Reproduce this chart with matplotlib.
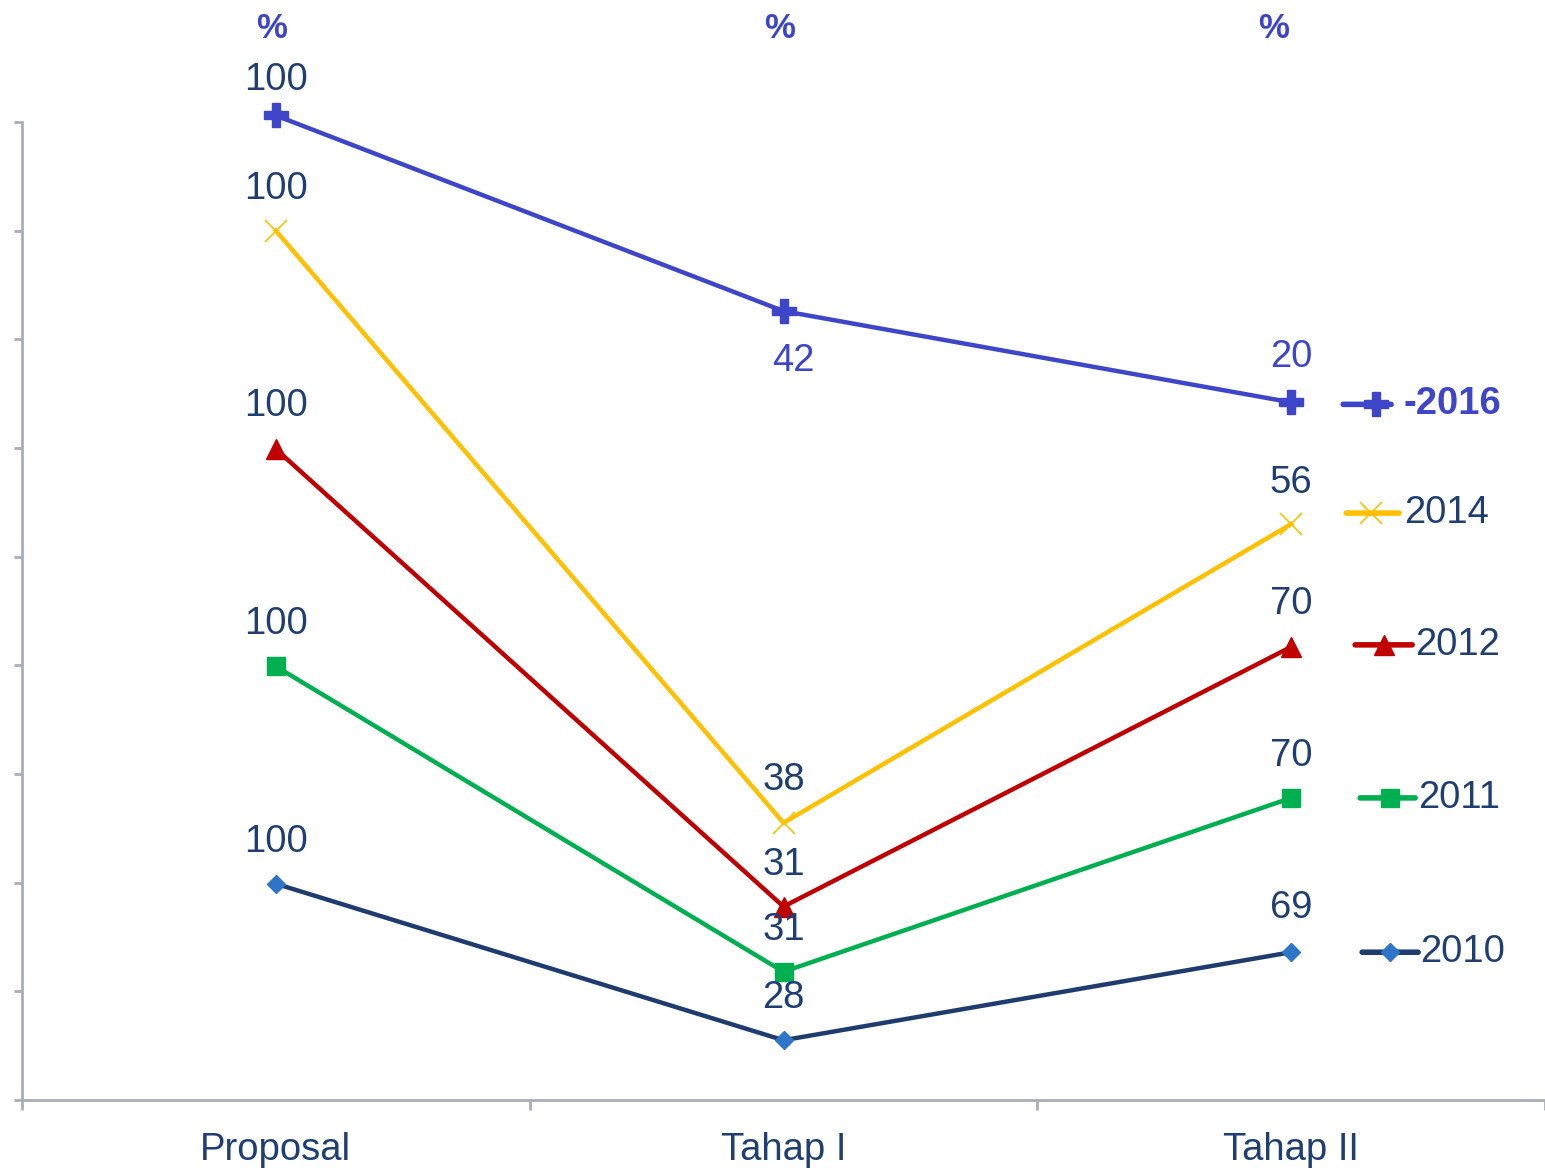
import matplotlib.pyplot as plt
import matplotlib.transforms as mtransforms

plt.rcParams['font.family'] = ['Liberation Sans', 'DejaVu Sans']

categories = ['Proposal', 'Tahap I', 'Tahap II']
years = ['2016', '2014', '2012', '2011', '2010']

# plotted height of each point (the chart stacks series, axis has no labels)
pos_2016 = [90.6, 72.6, 64.2]
pos_2014 = [80.0, 25.5, 53.0]
pos_2012 = [59.9, 17.8, 41.7]
pos_2011 = [39.9, 11.8, 27.8]
pos_2010 = [19.9, 5.5, 13.6]

# percentages shown as data labels
pct_2016 = [100, 42, 20]
pct_2014 = [100, 38, 56]
pct_2012 = [100, 31, 70]
pct_2011 = [100, 31, 70]
pct_2010 = [100, 28, 69]

positions = [pos_2016, pos_2014, pos_2012, pos_2011, pos_2010]
percents = [pct_2016, pct_2014, pct_2012, pct_2011, pct_2010]

text_col = '#1F3F73'
blue = '#3D46C9'
styles = {
    '2016': dict(color=blue, marker='P', ms=17, mfc=blue, mec=blue, mew=1),
    '2014': dict(color='#FFC000', marker='x', ms=16, mfc='#FFC000', mec='#FFC000', mew=1.2),
    '2012': dict(color='#C00000', marker='^', ms=15, mfc='#C00000', mec='#C00000', mew=1),
    '2011': dict(color='#00B050', marker='s', ms=13, mfc='#00B050', mec='#00B050', mew=1),
    '2010': dict(color='#1F3C6E', marker='D', ms=9, mfc='#2E75C8', mec='#2E75C8', mew=1),
}

# label offsets in pixels (dy per category); 2016 Tahap I sits below the point
label_dy = {
    '2016': [35, -50, 45],
    '2014': [42, 43, 41],
    '2012': [43, 42, 43],
    '2011': [42, 42, 42],
    '2010': [42, 42, 44],
}
# series-name key offsets from last point in pixels: (key start, key end, marker, text, dy)
key_off = {
    '2016': (52, 100, 85, 112, -2),
    '2014': (55, 108, 80, 113, 11),
    '2012': (64, 121, 93, 124, 2),
    '2011': (69, 124, 99, 127, 0),
    '2010': (71, 127, 99, 129, 0),
}
PT = 1.389  # pixels per point at 100 dpi

fig = plt.figure(figsize=(15.45, 11.68), dpi=100)
ax = fig.add_axes([22 / 1545, 68 / 1168, 1523 / 1545, 978 / 1168])
x = list(range(len(categories)))

for yr, ys, pc in zip(years, positions, percents):
    st = styles[yr]
    ax.plot(x, ys, lw=3.2, clip_on=False, zorder=3, **st)
    for i in range(len(x)):
        dxp = 10 if (yr == '2016' and i == 1) else 0
        lab_col = blue if (yr == '2016' and i > 0) else text_col
        ax.annotate(str(pc[i]), (x[i], ys[i]), xytext=(dxp / PT, label_dy[yr][i] / PT),
                    textcoords='offset points', ha='center', va='center',
                    fontsize=27.5, color=lab_col, zorder=4, annotation_clip=False)
    # series name with legend key at the end of the line
    k0, k1, km, kt, kdy = key_off[yr]
    tr_a = mtransforms.offset_copy(ax.transData, fig=fig, x=k0, y=kdy, units='dots')
    tr_b = mtransforms.offset_copy(ax.transData, fig=fig, x=k1, y=kdy, units='dots')
    tr_m = mtransforms.offset_copy(ax.transData, fig=fig, x=km, y=kdy, units='dots')
    ax.annotate('', xy=(x[-1], ys[-1]), xycoords=tr_b, xytext=(x[-1], ys[-1]), textcoords=tr_a,
                arrowprops=dict(arrowstyle='-', lw=4, color=st['color'], shrinkA=0, shrinkB=0,
                                capstyle='round'),
                annotation_clip=False, zorder=3)
    ax.plot([x[-1]], [ys[-1]], transform=tr_m, ls='none', marker=st['marker'], ms=st['ms'],
            mfc=st['mfc'], mec=st['mec'], mew=st['mew'], clip_on=False, zorder=4)
    name = '-' + yr if yr == '2016' else yr
    ax.annotate(name, (x[-1], ys[-1]), xytext=(kt / PT, kdy / PT), textcoords='offset points',
                ha='left', va='center', fontsize=27.5, color=blue if yr == '2016' else text_col,
                fontweight='bold' if yr == '2016' else 'normal', zorder=4, annotation_clip=False)

# percent headers
for i, dxp in zip(x, [-4, -4, -18]):
    ax.annotate('%', (i, 1), xycoords=('data', 'axes fraction'), xytext=(dxp / PT, 94 / PT),
                textcoords='offset points', ha='center', va='center', fontsize=25,
                fontweight='bold', color=blue, annotation_clip=False)

ax.set_xlim(-0.5, 2.5)
ax.set_ylim(0, 90)
ax.set_xticks([-0.5, 0.5, 1.5, 2.5])
ax.set_xticklabels([])
ax.set_xticks(x, minor=True)
ax.set_xticklabels(categories, minor=True, fontsize=27.5, color=text_col)
ax.tick_params(axis='x', which='minor', length=0, pad=23)
ax.tick_params(axis='x', which='major', length=7, width=2, color='#A8AEBB', direction='out')
ax.set_yticks(range(0, 91, 10))
ax.set_yticklabels([])
ax.tick_params(axis='y', length=6, width=2, color='#A8AEBB', direction='out')
for s in ['top', 'right']:
    ax.spines[s].set_visible(False)
for s in ['left', 'bottom']:
    ax.spines[s].set_color('#A8AEBB')
    ax.spines[s].set_linewidth(2)

fig.savefig('out.png', dpi=100)
